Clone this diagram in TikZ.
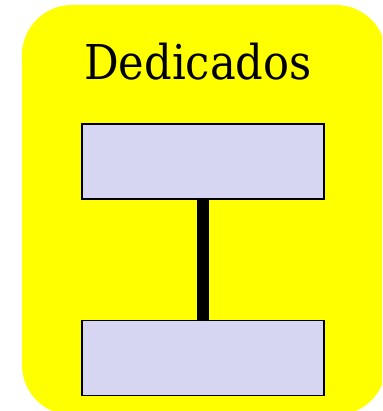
\documentclass[tikz,border=0pt]{standalone}
\usepackage{fontspec}
\setmainfont{DejaVu Serif Condensed}
\usepackage{tikz}
\usetikzlibrary{positioning}
\definecolor{lavender}{RGB}{214,214,242}
\definecolor{plainyellow}{RGB}{255,255,0}
\tikzset{%
    unit/.style={draw=black,line width=1.4pt,fill=lavender,
        minimum width=242pt,minimum height=75pt,inner sep=0pt}
}

\begin{document}
\begin{tikzpicture}[x=1pt,y=-1pt]
    \useasboundingbox (0,0) rectangle (382,411);
    \begin{scope}
    \clip (0,0) rectangle (382,411);
	\fill[plainyellow,rounded corners=50pt] (22,5) rectangle (386,415);
    \end{scope}
    \node[font=\fontsize{48}{54}\selectfont] (title) at (198,62) {Dedicados};
    \node[unit] (top) at (203,161.5) {};
    \node[unit] (bot) at (203,358) {};
    \draw[line width=12pt] (top.south) -- (bot.north);
  \end{tikzpicture}
\end{document}
